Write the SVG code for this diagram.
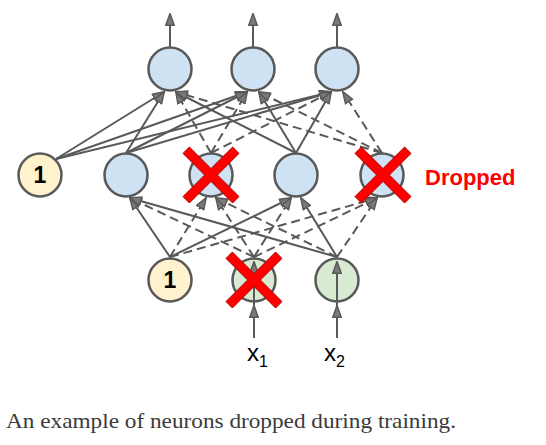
<svg xmlns="http://www.w3.org/2000/svg" width="546" height="445" viewBox="0 0 546 445">
<style>
.n{stroke:#595959;stroke-width:2.5}
.blue{fill:#cfe2f3}
.bias{fill:#fff2cc}
.green{fill:#d9ead3}
.c{fill:none;stroke:#595959;stroke-width:2;marker-end:url(#ah)}
.d{stroke-dasharray:9,5}
.one{font-family:"Liberation Sans",Arial,sans-serif;font-weight:bold;font-size:23px;fill:#000;text-anchor:middle}
.lab{font-family:"Liberation Sans",Arial,sans-serif;font-size:24px;fill:#000}
.x{fill:#ff0000;stroke:#b00000;stroke-width:1}
</style>
<defs>
<marker id="ah" markerUnits="userSpaceOnUse" markerWidth="13" markerHeight="10" viewBox="0 0 13 10" refX="12" refY="5" orient="auto">
<path d="M0.8,0.8 L12.5,5 L0.8,9.2 z" fill="#7a7a7a" stroke="#595959" stroke-width="1.5"/>
</marker>
<polygon id="xm" points="0,-6.4 21.6,-28 28,-21.6 6.4,0 28,21.6 21.6,28 0,6.4 -21.6,28 -28,21.6 -6.4,0 -28,-21.6 -21.6,-28" class="x"/>
</defs>
<rect width="546" height="445" fill="#fff"/>

<g id="b1"><circle cx="40" cy="175" r="21.5" class="n bias"/><text x="40" y="183" class="one">1</text></g>
<g id="h1"><circle cx="126" cy="175" r="21.5" class="n blue"/></g>
<g id="h2"><circle cx="211" cy="175" r="21.5" class="n blue"/></g>
<g id="h3"><circle cx="296" cy="175" r="21.5" class="n blue"/></g>
<g id="h4"><circle cx="382" cy="175" r="21.5" class="n blue"/></g>
<g id="o1"><circle cx="170" cy="69" r="21.5" class="n blue"/></g>
<g id="o2"><circle cx="253" cy="69" r="21.5" class="n blue"/></g>
<g id="o3"><circle cx="337" cy="69" r="21.5" class="n blue"/></g>
<g id="b0"><circle cx="170" cy="280" r="21.5" class="n bias"/><text x="170" y="288" class="one">1</text></g>
<g id="i1"><circle cx="254" cy="280" r="21.5" class="n green"/></g>
<g id="i2"><circle cx="337" cy="280" r="21.5" class="n green"/></g>

<g id="connectors">
<path class="c" d="M170,257 L130,198"/>
<path class="c d" d="M170,257 L206,198"/>
<path class="c" d="M170,257 L291,198"/>
<path class="c d" d="M170,257 L377,198"/>
<path class="c d" d="M254,257 L130,198"/>
<path class="c d" d="M254,257 L216,198"/>
<path class="c d" d="M254,257 L291,198"/>
<path class="c d" d="M254,257 L377,198"/>
<path class="c" d="M337,257 L130,198"/>
<path class="c d" d="M337,257 L216,198"/>
<path class="c" d="M337,257 L301,198"/>
<path class="c d" d="M337,257 L377,198"/>
<path class="c" d="M56,159 L164,92"/>
<path class="c" d="M56,159 L247,92"/>
<path class="c" d="M56,159 L331,92"/>
<path class="c" d="M126,153 L164,92"/>
<path class="c" d="M126,153 L247,92"/>
<path class="c" d="M126,153 L331,92"/>
<path class="c d" d="M211,153 L176,92"/>
<path class="c d" d="M211,153 L247,92"/>
<path class="c d" d="M211,153 L331,92"/>
<path class="c" d="M296,153 L176,92"/>
<path class="c" d="M296,153 L259,92"/>
<path class="c" d="M296,153 L331,92"/>
<path class="c d" d="M382,153 L176,92"/>
<path class="c d" d="M382,153 L259,92"/>
<path class="c d" d="M382,153 L343,92"/>
<path class="c" d="M170,47 L170,14"/>
<path class="c" d="M253,47 L253,14"/>
<path class="c" d="M337,47 L337,14"/>
<path class="c" d="M254,338 L254,306"/>
<path class="c" d="M254,306 L254,262"/>
<path class="c" d="M337,338 L337,306"/>
<path class="c" d="M337,306 L337,262"/>
</g>

<g id="drop-marks">
<use href="#xm" x="211" y="175"/>
<use href="#xm" x="383" y="175"/>
<use href="#xm" x="254" y="280"/>
</g>

<text x="425" y="185" font-family="Liberation Sans, Arial, sans-serif" font-weight="bold" font-size="22" fill="#ff0000">Dropped</text>

<text x="247" y="361" class="lab">x<tspan dy="6" font-size="16">1</tspan></text>
<text x="324" y="361" class="lab">x<tspan dy="6" font-size="16">2</tspan></text>

<text x="6" y="428" font-family="Liberation Serif, Times New Roman, serif" font-size="22" fill="#3a3a3a" textLength="450" lengthAdjust="spacingAndGlyphs">An example of neurons dropped during training.</text>
</svg>
